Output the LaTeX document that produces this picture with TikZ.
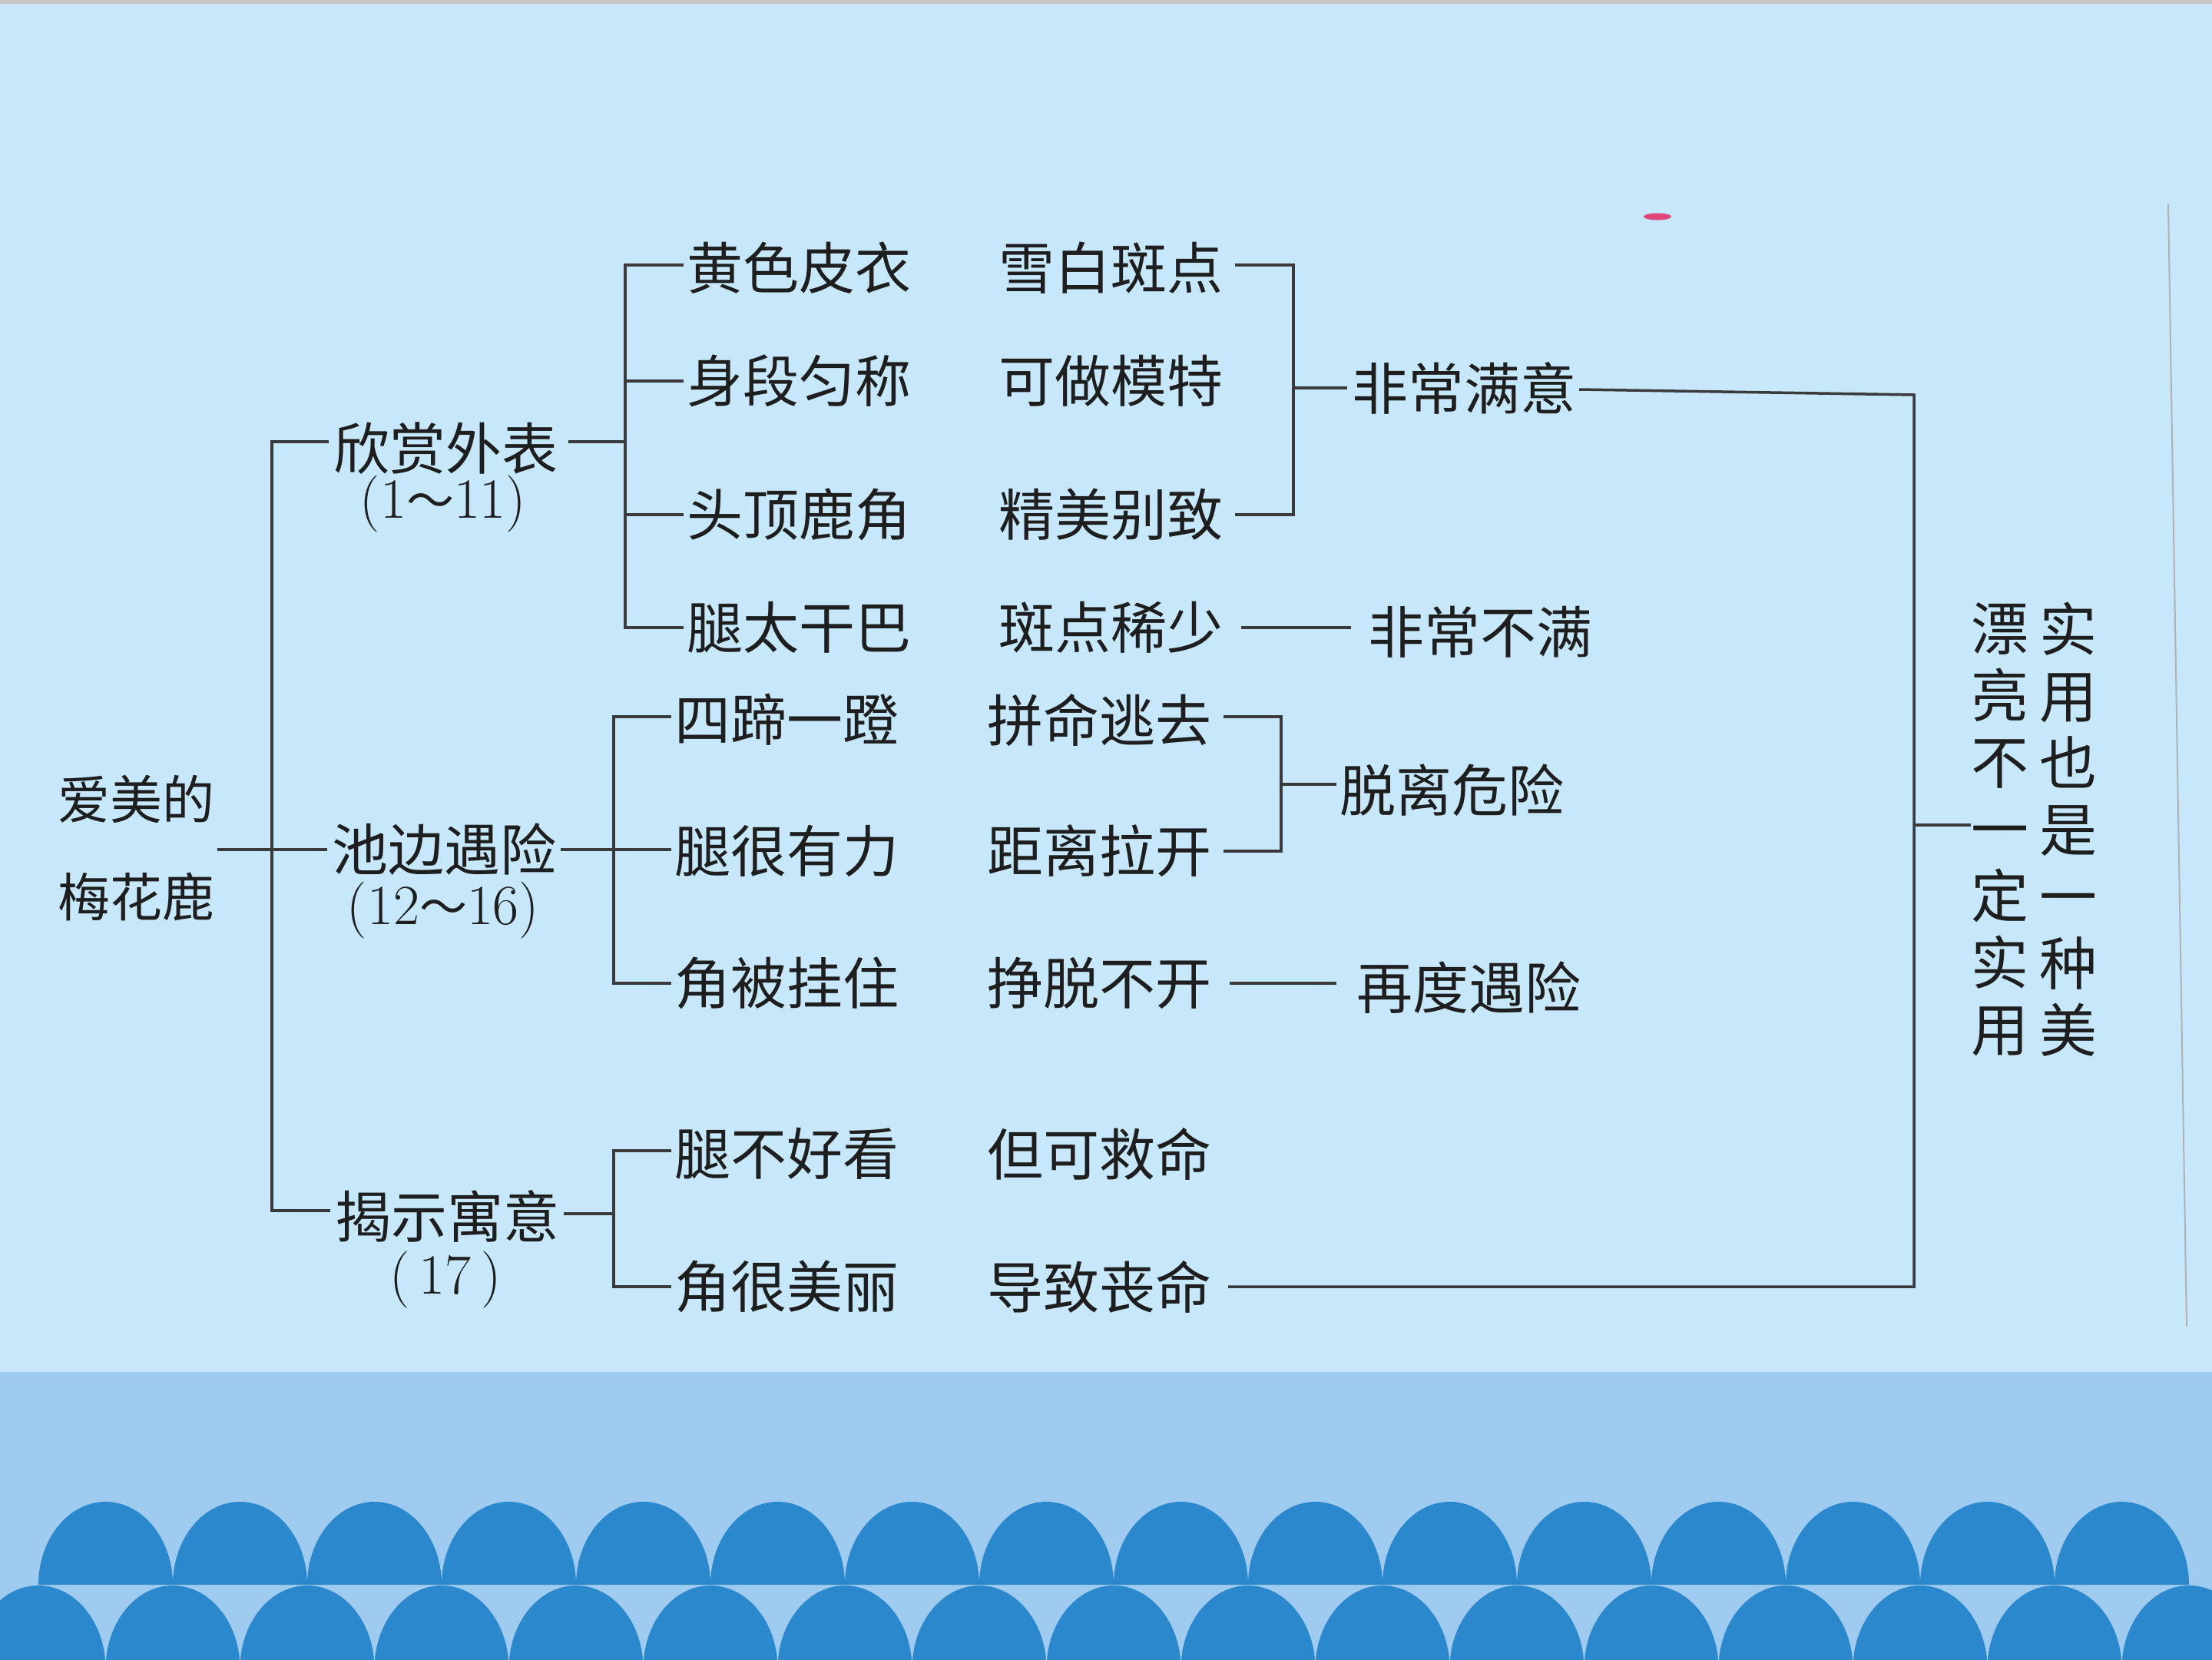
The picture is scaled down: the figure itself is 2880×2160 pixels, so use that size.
\documentclass[tikz,border=0pt]{standalone}
\usepackage{fontspec}
\usetikzlibrary{calc}
\newfontfamily\cjk{Noto Sans CJK SC}
\newcommand\wavetilde{{\cjk\fontsize{62}{62}\selectfont ～}}
\definecolor{bgc}{HTML}{C6E8FA}
\definecolor{bandc}{HTML}{9FCBF0}
\definecolor{wavec}{HTML}{2B88CC}
\definecolor{inkc}{HTML}{1E1E1E}
\definecolor{linec}{HTML}{3A3A3A}
\definecolor{markc}{HTML}{E0457A}
\begin{document}
\begin{tikzpicture}[x=1pt,y=-1pt,
  lbl/.style={font=\cjk\fontsize{73}{80}\selectfont, inner sep=0pt, text=inkc},
  rootlbl/.style={font=\cjk\fontsize{68}{127}\selectfont, inner sep=0pt, text=inkc, align=center},
  vlbl/.style={font=\cjk\fontsize{75}{87}\selectfont, inner sep=0pt, text=inkc, align=center},
  sublbl/.style={font=\fontsize{74}{80}\selectfont, inner sep=0pt, text=inkc},
  ln/.style={draw=linec, line width=3.5pt},
  wave/.style={fill=wavec},
]
\useasboundingbox (0,0) rectangle (2880,2160);
% background
\fill[bgc] (0,0) rectangle (2880,2160);
\fill[gray!45] (0,0) rectangle (2880,5);
\fill[bandc] (0,1786) rectangle (2880,2160);
\begin{scope}
\clip (0,0) rectangle (2880,2160);
\foreach \i in {0,...,15} {
  \pgfmathsetmacro\cx{137.5+175*\i}
  \fill[wave] (\cx-87.5,2063) .. controls (\cx-87.5,2003.4) and (\cx-48.3,1955) .. (\cx,1955)
     .. controls (\cx+48.3,1955) and (\cx+87.5,2003.4) .. (\cx+87.5,2063) -- cycle;
}
\foreach \i in {0,...,16} {
  \pgfmathsetmacro\cx{50+175*\i}
  \fill[wave] (\cx-87.5,2172) .. controls (\cx-87.5,2112.4) and (\cx-48.3,2064) .. (\cx,2064)
     .. controls (\cx+48.3,2064) and (\cx+87.5,2112.4) .. (\cx+87.5,2172) -- cycle;
}
\end{scope}
% decorations
\draw[gray!60, line width=2pt] (2823,266) -- (2847,1727);
\fill[markc] (2158,282) ellipse [x radius=18, y radius=4.5];

% bus coordinates
\coordinate (b1) at (354,0);
\coordinate (bA) at (814,0);
\coordinate (bB) at (799,0);
\coordinate (brA) at (1684,0);
\coordinate (brB) at (1668,0);
\coordinate (bR) at (2492,0);

% root
\node[rootlbl] (root) at (177,1104) {爱美的\\梅花鹿};

% level 1
\node[lbl] (a1) at (580,584) {欣赏外表};
\node[sublbl] (a1s) at (577,656) {(1\wavetilde 11)};
\node[lbl] (a2) at (578,1106) {池边遇险};
\node[sublbl] (a2s) at (577,1185) {(12\wavetilde 16)};
\node[lbl] (a3) at (582,1583) {揭示寓意};
\node[sublbl] (a3s) at (580,1666) {(\,17\,)};

% group A
\node[lbl] (c1) at (1040,349) {黄色皮衣};
\node[lbl] (c2) at (1040,496) {身段匀称};
\node[lbl] (c3) at (1040,670) {头顶鹿角};
\node[lbl] (c4) at (1040,817) {腿太干巴};
\node[lbl] (d1) at (1446,349) {雪白斑点};
\node[lbl] (d2) at (1446,496) {可做模特};
\node[lbl] (d3) at (1446,670) {精美别致};
\node[lbl] (d4) at (1446,817) {斑点稀少};
\node[lbl] (e1) at (1906,505) {非常满意};
\node[lbl] (e2) at (1927,823) {非常不满};

% group B
\node[lbl] (f1) at (1024,937) {四蹄一蹬};
\node[lbl] (f2) at (1024,1108) {腿很有力};
\node[lbl] (f3) at (1024,1280) {角被挂住};
\node[lbl] (h1) at (1431,937) {拼命逃去};
\node[lbl] (h2) at (1431,1108) {距离拉开};
\node[lbl] (h3) at (1431,1280) {挣脱不开};
\node[lbl] (i1) at (1890,1029) {脱离危险};
\node[lbl] (i2) at (1912,1286) {再度遇险};

% group C
\node[lbl] (j1) at (1024,1502) {腿不好看};
\node[lbl] (j2) at (1024,1675) {角很美丽};
\node[lbl] (k1) at (1431,1502) {但可救命};
\node[lbl] (k2) at (1431,1675) {导致丧命};

% conclusion (vertical)
\node[vlbl] (vL) at (2604,1080) {漂\\亮\\不\\一\\定\\实\\用};
\node[vlbl] (vR) at (2693,1080) {实\\用\\也\\是\\一\\种\\美};

% connectors: level 0 -> 1
\draw[ln] ($(a1.west)+(-6,-9)$) -- ($(a1.west -| b1)+(0,-9)$) |- ($(a3.west)+(-6,-7)$);
\draw[ln] ($(a2.west -| root.east)+(4,0)$) -- ($(a2.west)+(-6,0)$);

% level 1 -> 2
\draw[ln, shorten <=14pt] ($(a1.east)+(0,-9)$) -- ($(a1.east -| bA)+(0,-9)$);
\draw[ln] ($(c1.west)+(-4,-4)$) -- ($(c1.west -| bA)+(0,-4)$) |- ($(c4.west)+(-4,0)$);
\draw[ln] (c2.west -| bA) -- ($(c2.west)+(-4,0)$);
\draw[ln] (c3.west -| bA) -- ($(c3.west)+(-4,0)$);

\draw[ln, shorten <=6pt] (a2.east) -- ($(a2.east -| f2.west)+(-4,0)$);
\draw[ln] ($(f1.west)+(-4,-4)$) -- ($(f1.west -| bB)+(0,-4)$) |- ($(f3.west)+(-4,0)$);

\draw[ln, shorten <=6pt] ($(a3.east)+(0,-3)$) -- ($(a3.east -| bB)+(0,-3)$);
\draw[ln] ($(j1.west)+(-4,-4)$) -- ($(j1.west -| bB)+(0,-4)$) |- ($(j2.west)+(-4,0)$);

% level 2 -> 3
\draw[ln, shorten <=16pt] ($(d1.east)+(0,-4)$) -- ($(d1.east -| brA)+(0,-4)$) |- ($(d3.east)+(16,0)$);
\draw[ln] (e1.west -| brA) -- ($(e1.west)+(-6,0)$);
\draw[ln, shorten <=24pt, shorten >=22pt] (d4.east) -- (d4.east -| e2.west);

\draw[ln, shorten <=16pt] ($(h1.east)+(0,-4)$) -- ($(h1.east -| brB)+(0,-4)$) |- ($(h2.east)+(16,0)$);
\draw[ln] ($(i1.west -| brB)+(0,-8)$) -- ($(i1.west)+(-4,-8)$);
\draw[ln, shorten <=24pt, shorten >=26pt] (h3.east) -- (h3.east -| i2.west);

% conclusion bracket
\draw[ln] ($(e1.east)+(4,2)$) -- ($(e1.east -| bR)+(0,9)$) |- ($(k2.east)+(22,0)$);
\draw[ln] ($(vL.west -| bR)+(0,-6)$) -- ($(vL.west)+(0,-6)$);
\end{tikzpicture}
\end{document}
